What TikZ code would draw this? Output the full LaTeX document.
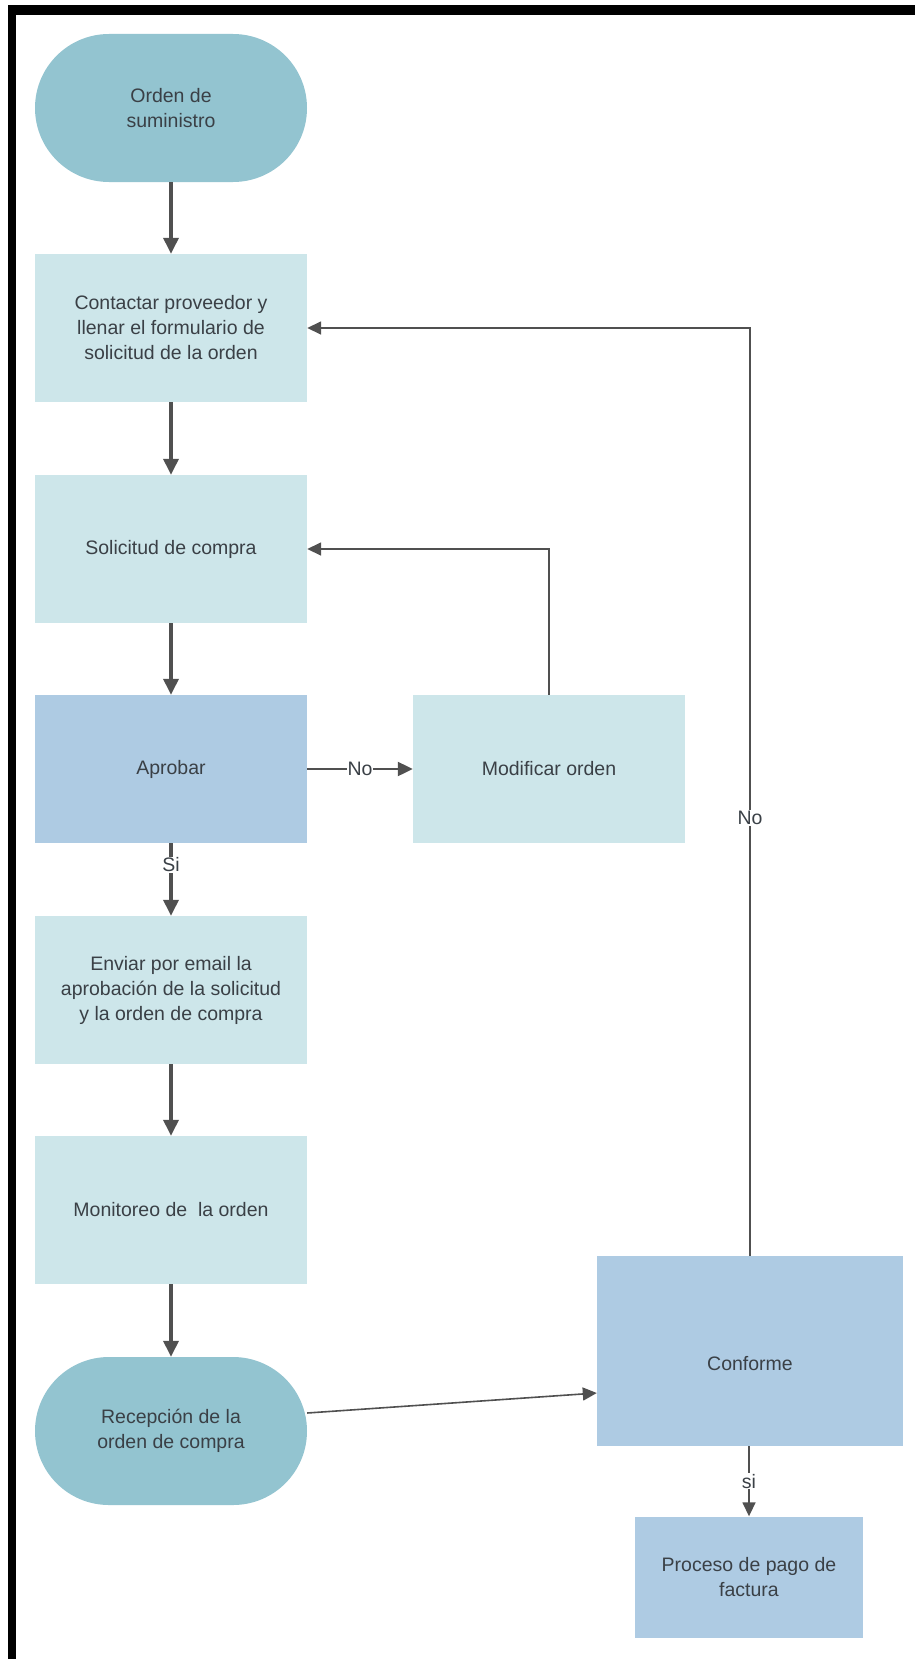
\documentclass[tikz,border=0pt]{standalone}
\usepackage{fontspec}
\setmainfont{Liberation Sans}
\usetikzlibrary{arrows.meta}
\definecolor{stadfill}{HTML}{93C4D0}
\definecolor{lightfill}{HTML}{CDE6EA}
\definecolor{bluefill}{HTML}{AECBE3}
\definecolor{txt}{HTML}{3A4046}
\definecolor{arr}{HTML}{505050}
\tikzset{
  base/.style={inner sep=0pt, align=center, text=txt, font=\fontsize{19.5}{25}\selectfont},
  stad/.style={base, fill=stadfill, rounded corners=74pt, minimum width=272pt, minimum height=148pt},
  lbox/.style={base, fill=lightfill, minimum width=272pt, minimum height=148pt},
  bbox/.style={base, fill=bluefill},
  thick arrow/.style={draw=arr, line width=3.5pt, -{Triangle[length=16pt,width=15pt]}},
  thin arrow/.style={draw=arr, line width=1.6pt, -{Triangle[length=14pt,width=13pt]}},
  lbl/.style={fill=white, inner sep=1pt, text=txt, font=\fontsize{19.5}{22}\selectfont},
}
\begin{document}
\begin{tikzpicture}[x=1pt,y=-1pt]
\useasboundingbox (0,0) rectangle (915,1659);
\fill[white] (0,0) rectangle (915,1659);
% frame (top and left bars)
\fill[black] (8,5) rectangle (915,15);
\fill[black] (8,5) rectangle (16,1659);

\node[stad] (orden) at (171,108) {Orden de\\suministro};
\node[lbox] (contact) at (171,328) {Contactar proveedor y\\llenar el formulario de\\solicitud de la orden};
\node[lbox] (solic) at (171,549) {Solicitud de compra};
\node[bbox, minimum width=272pt, minimum height=148pt] (aprob) at (171,769) {Aprobar};
\node[lbox] (modif) at (549,769) {Modificar orden};
\node[lbox] (enviar) at (171,990) {Enviar por email la\\aprobación de la solicitud\\y la orden de compra};
\node[lbox] (monit) at (171,1210) {Monitoreo de\ \ la orden};
\node[stad] (recep) at (171,1431) {Recepción de la\\orden de compra};
\node[bbox, minimum width=306pt, minimum height=190pt, text height=40pt] (conf) at (750,1351) {Conforme};
\node[bbox, minimum width=228pt, minimum height=121pt] (proc) at (749,1577) {Proceso de pago de\\factura};

\draw[thick arrow] (orden) -- (contact);
\draw[thick arrow] (contact) -- (solic);
\draw[thick arrow] (solic) -- (aprob);
\draw[thick arrow] (aprob) -- node[lbl, pos=0.3] {Si} (enviar);
\draw[thick arrow] (enviar) -- (monit);
\draw[thick arrow] (monit) -- (recep);
\draw[draw=arr, line width=2.2pt, -{Triangle[length=15pt,width=14pt]}] (aprob) -- node[lbl] {No} (modif);
\draw[thin arrow] (modif.north) |- (solic.east);
\draw[thin arrow] (conf.north) |- node[lbl, pos=0.236] {No} (contact.east);
\draw[thin arrow] ([yshift=18pt]recep.east) -- (conf.west |- 0,1393);
\draw[thin arrow] (conf.south -| proc.north) -- node[lbl] {si} (proc.north);
\end{tikzpicture}
\end{document}
